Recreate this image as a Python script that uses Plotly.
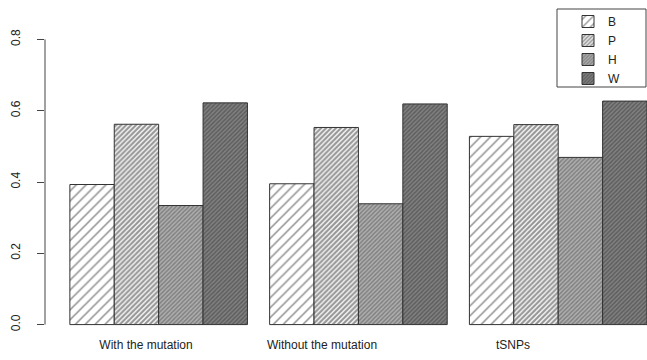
import plotly.graph_objects as go

groups = ["With the mutation", "Without the mutation", "tSNPs"]
series = ["B", "P", "H", "W"]
B = [0.393, 0.395, 0.528]
P = [0.562, 0.553, 0.561]
H = [0.334, 0.339, 0.469]
W = [0.622, 0.619, 0.627]
values = [B, P, H, W]
yticks = [0.0, 0.2, 0.4, 0.6, 0.8]
ytick_text = ["0.0", "0.2", "0.4", "0.6", "0.8"]
label_pos = [2.715, 6.68, 10.98]

patterns = [
    dict(shape="/", size=7, solidity=0.22, fgcolor="#222222", bgcolor="white"),
    dict(shape="/", size=3.5, solidity=0.55, fgcolor="#383838", bgcolor="#f0f0f0"),
    dict(shape="/", size=3, solidity=0.5, fgcolor="#505050", bgcolor="#b0b0b0"),
    dict(shape="/", size=3, solidity=0.5, fgcolor="#383838", bgcolor="#828282"),
]

fig = go.Figure()
for s, (name, vals) in enumerate(zip(series, values)):
    xs = [1.5 + g * 4.5 + s for g in range(len(groups))]
    fig.add_trace(go.Bar(
        x=xs, y=vals, name=name, width=1,
        marker=dict(color="white", pattern=patterns[s],
                    line=dict(color="#333333", width=1)),
    ))

# y axis line (R style, spanning only the tick range)
fig.add_shape(type="line", xref="paper", yref="y", x0=0, x1=0, y0=0, y1=0.8,
              line=dict(color="#444444", width=1))
# legend frame
fig.add_shape(type="rect", xref="paper", yref="paper",
              x0=(557 - 45) / 602, x1=(646 - 45) / 602,
              y0=1 + (28 - 87) / 308, y1=1 + (28 - 9) / 308,
              line=dict(color="#444444", width=1), fillcolor="rgba(0,0,0,0)")

fig.update_layout(
    width=647, height=360,
    margin=dict(l=45, r=0, t=28, b=24, autoexpand=False),
    paper_bgcolor="white", plot_bgcolor="white",
    font=dict(family="Liberation Sans, Arial, sans-serif", size=12, color="#222222"),
    showlegend=True,
    legend=dict(x=(568 - 45) / 602, xanchor="left", y=1 + (28 - 7) / 308, yanchor="top",
                borderwidth=0, bgcolor="rgba(0,0,0,0)",
                font=dict(size=12), itemwidth=30),
    xaxis=dict(range=[0.44, 14.0], showgrid=False, zeroline=False, showline=False,
               tickmode="array", tickvals=label_pos, ticktext=groups, ticks="",
               automargin=False),
    yaxis=dict(range=[-0.032, 0.832], showgrid=False, zeroline=False, showline=False,
               tickmode="array", tickvals=yticks, ticktext=ytick_text,
               ticks="outside", ticklen=7, tickcolor="#444444", tickangle=-90,
               ticklabelstandoff=12, automargin=False),
    barmode="overlay",
)

fig.write_html("out.html", config={"displayModeBar": False},
               post_script="document.body.style.margin='0';")
